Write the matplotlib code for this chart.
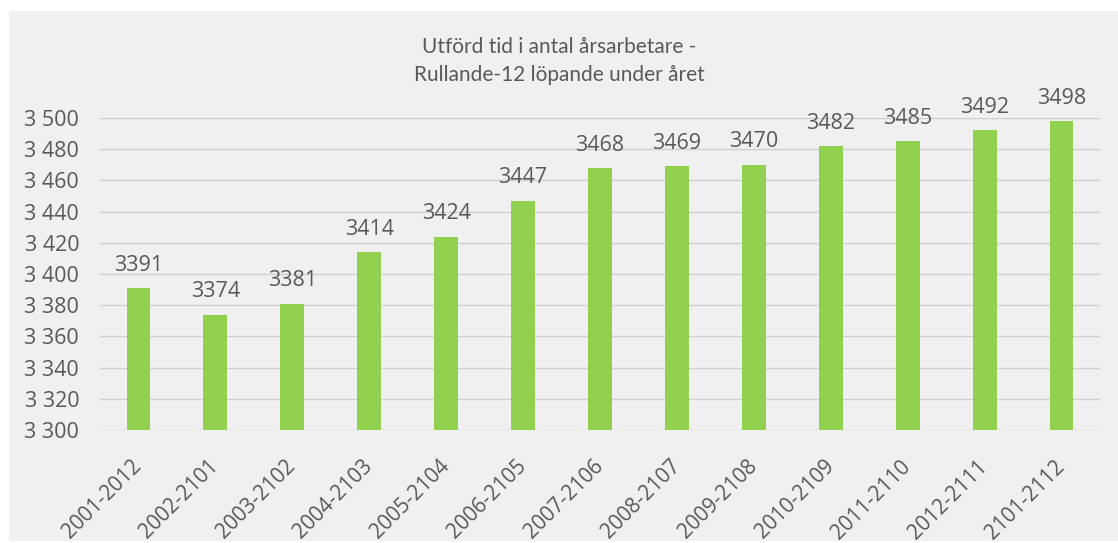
import matplotlib.pyplot as plt
from matplotlib.patches import Rectangle

perioder = ["2001-2012", "2002-2101", "2003-2102", "2004-2103", "2005-2104",
            "2006-2105", "2007-2106", "2008-2107", "2009-2108", "2010-2109",
            "2011-2110", "2012-2111", "2101-2112"]
arsarbetare = [3391, 3374, 3381, 3414, 3424, 3447, 3468, 3469, 3470, 3482,
               3485, 3492, 3498]
y_ticks = list(range(3300, 3501, 20))
y_ticklabels = ["3 " + str(v)[1:] for v in y_ticks]

textfarg = "#595959"
stapelfarg = "#92D050"
bakgrund = "#F0F0F0"

fig = plt.figure(figsize=(11.18, 5.43), dpi=100)
fig.patch.set_facecolor("white")
# grå ram bakom diagrammet
fig.patches.append(Rectangle((9 / 1118, 0.003), 1 - 9 / 1118, 1 - 11 / 543 - 0.003,
                             transform=fig.transFigure, facecolor=bakgrund,
                             edgecolor="none", zorder=-10))

ax = fig.add_axes([100 / 1118, 1 - 430 / 543, 1000 / 1118, 312 / 543])
ax.patch.set_alpha(0)

x = range(len(perioder))
ax.bar(x, [v - 3300 for v in arsarbetare], bottom=3300, width=0.31,
       color=stapelfarg, zorder=3)

for xi, v in zip(x, arsarbetare):
    ax.annotate(str(v), (xi, v), xytext=(0, 12.5), textcoords="offset points",
                ha="center", va="baseline", fontsize=15.5, color=textfarg,
                family="Open Sans")

ax.set_xlim(-0.5, len(perioder) - 0.5)
ax.set_ylim(3300, 3500)
ax.set_yticks(y_ticks)
ax.set_yticklabels(y_ticklabels, fontsize=15.5, color=textfarg, family="Open Sans")
ax.set_xticks(list(x))
ax.set_xticklabels(perioder, rotation=45, ha="right", va="center",
                   rotation_mode="anchor", fontsize=15, color=textfarg,
                   family="Open Sans")
ax.tick_params(axis="both", length=0)
ax.tick_params(axis="y", pad=15)
ax.tick_params(axis="x", pad=24)
ax.grid(axis="y", color="#D0D0D0", linewidth=1, zorder=0)
for s in ax.spines.values():
    s.set_visible(False)

fig.text(0.5, 1 - 47 / 543, "Utförd tid i antal årsarbetare -", ha="center",
         va="center", fontsize=15, color=textfarg, family="Lato")
fig.text(0.5, 1 - 75 / 543, "Rullande-12 löpande under året", ha="center",
         va="center", fontsize=15, color=textfarg, family="Lato")

fig.savefig("out.png", dpi=100, facecolor=fig.get_facecolor())
